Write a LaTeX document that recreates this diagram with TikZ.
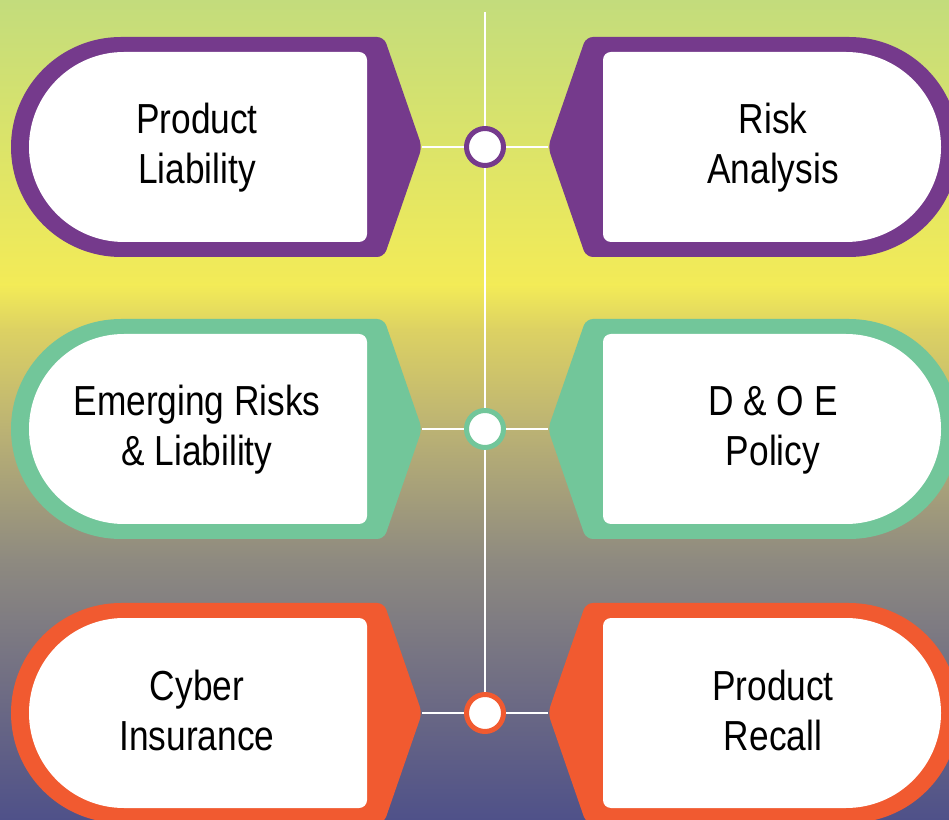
\documentclass[tikz,border=0pt]{standalone}
\usepackage{fontspec}
\setmainfont{Liberation Sans}[FakeStretch=0.84]
\usepackage{tikz}

\definecolor{purp}{HTML}{753A8C}
\definecolor{mint}{HTML}{72C69A}
\definecolor{tang}{HTML}{F15A30}
\definecolor{bgA}{HTML}{C3DC7C}
\definecolor{bgB}{HTML}{F3EB57}
\definecolor{bgC}{HTML}{DCD163}
\definecolor{bgD}{HTML}{BBB274}
\definecolor{bgE}{HTML}{8E8A80}
\definecolor{bgF}{HTML}{6C6A84}
\definecolor{bgG}{HTML}{4F5189}

\newcommand{\cardfont}{\fontsize{42}{50}\selectfont}
% one half-round card, tip pointing right, centred on height #1
\newcommand{\cardshape}[2]{%
    \fill[#2] (121,#1-110) arc[start angle=270, end angle=90, radius=110]
        [rounded corners=7pt] -- (384,#1+110) -- (422,#1) -- (384,#1-110) [sharp corners] -- cycle;
    \fill[white] (124,#1-95) arc[start angle=270, end angle=90, radius=95]
        [rounded corners=8pt] -- (367,#1+95) -- (367,#1-95) [sharp corners] -- cycle;
}

\begin{document}
\begin{tikzpicture}[x=1pt,y=1pt,
    label/.style={font=\cardfont, align=center, inner sep=0pt},
    hub/.style={circle, draw=#1, line width=5pt, fill=white, minimum size=37pt, inner sep=0pt, outer sep=2.5pt},
    link/.style={white, line width=2pt}]
    \useasboundingbox (0,0) rectangle (949,819);
    \clip (0,0) rectangle (949,819);

    % background bands
    \foreach \ya/\yb/\ca/\cb in {819/534/bgA/bgB, 534/489/bgB/bgC, 489/389/bgC/bgD,
                                 389/259/bgD/bgE, 259/119/bgE/bgF, 119/0/bgF/bgG}
        \fill[top color=\ca, bottom color=\cb] (0,\yb-0.5) rectangle (949,\ya);

    \foreach \cy/\col/\ltext/\rtext/\n in {672/purp/{Product\\Liability}/{Risk\\Analysis}/1,
                                          390/mint/{Emerging Risks\\\& Liability}/{D \& O E\\Policy}/2,
                                          106/tang/{Cyber\\Insurance}/{Product\\Recall}/3}
    {
        \cardshape{\cy}{\col}
        \begin{scope}[shift={(970,0)}, xscale=-1]
            \cardshape{\cy}{\col}
        \end{scope}

        \node[label] (lt\n) at (197,\cy-2) {\strut\ltext\strut};
        \node[label] (rt\n) at (773,\cy-2) {\strut\rtext\strut};

        \coordinate (ltip\n) at (422,\cy);
        \coordinate (rtip\n) at (548,\cy);
        \node[hub=\col] (hub\n) at (485,\cy) {};
        \draw[link] (ltip\n) -- (hub\n);
        \draw[link] (hub\n) -- (rtip\n);
    }

    % spine
    \coordinate (top) at (485,807);
    \draw[link] (top) -- (hub1);
    \draw[link] (hub1) -- (hub2);
    \draw[link] (hub2) -- (hub3);
\end{tikzpicture}
\end{document}
